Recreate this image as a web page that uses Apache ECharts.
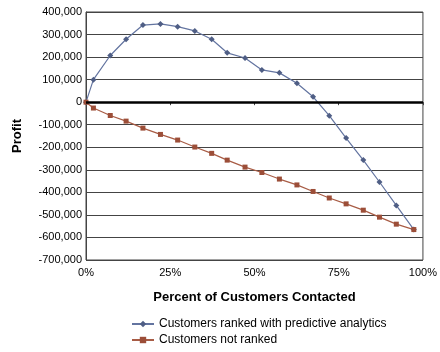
<!DOCTYPE html>
<html>
<head>
<meta charset="utf-8">
<script src="https://cdn.jsdelivr.net/npm/echarts@6/dist/echarts.min.js"></script>
<style>
  html, body { margin: 0; padding: 0; background: #fff; }
  #chart { width: 440px; height: 352px; }
</style>
</head>
<body>
<div id="chart"></div>
<script>
// percent of customers contacted
var pct = [0, 2.2, 7.2, 11.9, 16.9, 22.1, 27.2, 32.3, 37.3, 41.9, 47.2, 52.2, 57.4, 62.6, 67.4, 72.2, 77.2, 82.3, 87.1, 92.1, 97.3];
var ranked = [0, 100000, 207000, 279000, 342000, 347000, 335000, 316000, 279000, 219000, 196000, 143000, 130000, 84000, 24000, -60000, -159000, -257000, -354000, -458000, -565000];
var notRanked = [0, -26000, -59000, -84000, -115000, -143000, -168000, -199000, -227000, -257000, -288000, -312000, -341000, -367000, -396000, -425000, -451000, -479000, -510000, -541000, -565000];

function pairs(xs, ys) {
  return xs.map(function (x, i) { return [x, ys[i]]; });
}

var font = "Liberation Sans, Arial, sans-serif";
var chart = echarts.init(document.getElementById("chart"));
chart.setOption({
  animation: false,
  textStyle: { fontFamily: font },
  grid: {
    left: 86, right: 15, top: 12, bottom: 92,
    show: true, borderColor: "#444", borderWidth: 1
  },
  xAxis: {
    type: "value", min: 0, max: 100, interval: 25,
    name: "Percent of Customers Contacted",
    nameLocation: "middle", nameGap: 31,
    nameTextStyle: { fontFamily: font, fontSize: 13, fontWeight: "bold", color: "#000" },
    axisLine: { show: true, lineStyle: { color: "#444" } },
    axisTick: { show: true, length: 3, lineStyle: { color: "#444" } },
    axisLabel: { formatter: "{value}%", color: "#000", fontSize: 11, margin: 7 },
    splitLine: { show: false }
  },
  yAxis: {
    type: "value", min: -700000, max: 400000, interval: 100000,
    name: "Profit",
    nameLocation: "middle", nameGap: 62,
    nameTextStyle: { fontFamily: font, fontSize: 13, fontWeight: "bold", color: "#000" },
    axisLine: { show: true, lineStyle: { color: "#444" } },
    axisTick: { show: false },
    axisLabel: {
      color: "#000", fontSize: 11, margin: 4,
      formatter: function (v) { return v.toLocaleString("en-US"); }
    },
    splitLine: { show: true, lineStyle: { color: "#444", width: 1 } }
  },
  legend: {
    orient: "vertical",
    left: 131, top: 318, padding: 0,
    itemGap: 4, itemWidth: 22, itemHeight: 8,
    textStyle: { fontFamily: font, fontSize: 12, color: "#000" },
    data: ["Customers ranked with predictive analytics", "Customers not ranked"]
  },
  series: [
    {
      name: "Customers ranked with predictive analytics",
      type: "line",
      data: pairs(pct, ranked),
      symbol: "diamond", symbolSize: 6,
      itemStyle: { color: "#4f5e85" },
      lineStyle: { color: "#6374a0", width: 1.2 },
      markLine: {
        silent: true, symbol: "none", label: { show: false },
        lineStyle: { color: "#000", width: 2.5, type: "solid" },
        data: [{ yAxis: 0 }]
      }
    },
    {
      name: "Customers not ranked",
      type: "line",
      data: pairs(pct, notRanked),
      symbol: "rect", symbolSize: 5,
      itemStyle: { color: "#9c4e38" },
      lineStyle: { color: "#a85c45", width: 1.2 }
    }
  ]
});
</script>
</body>
</html>
